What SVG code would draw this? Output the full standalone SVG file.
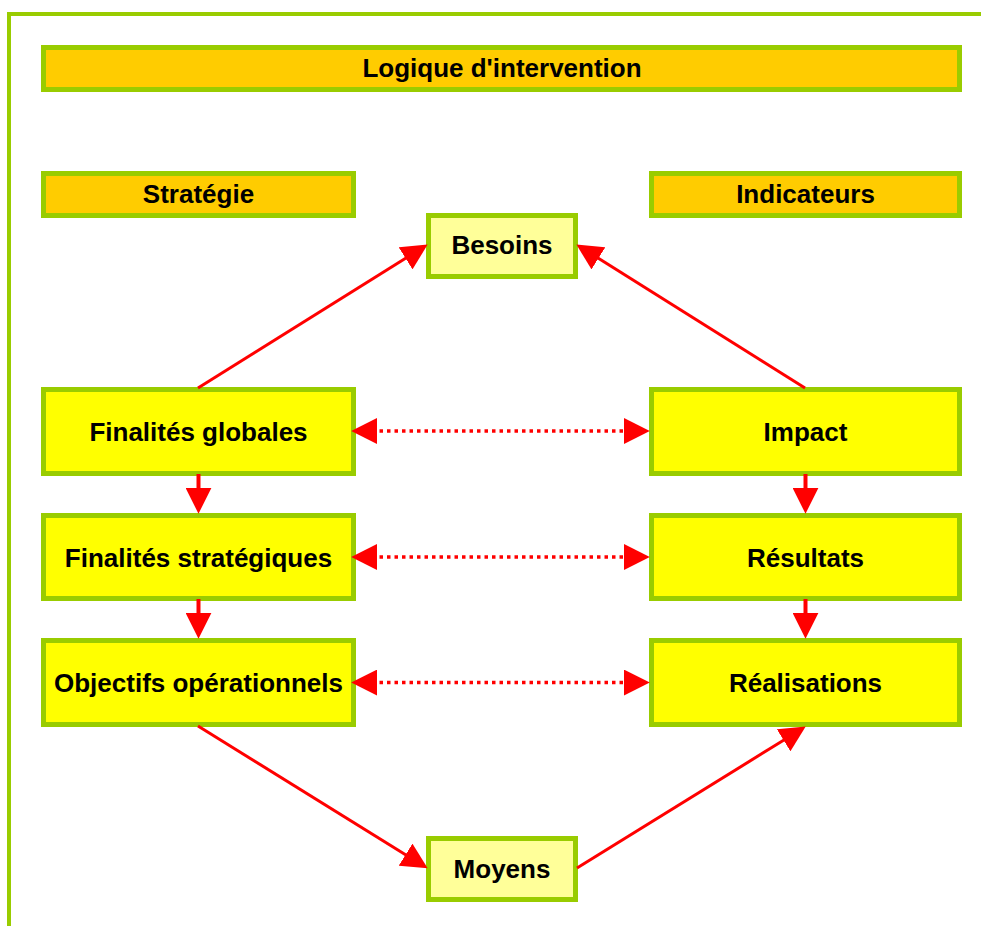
<svg xmlns="http://www.w3.org/2000/svg" width="981" height="926" viewBox="0 0 981 926">
<style>
.frame{fill:#99CC00}
.hdr{fill:#FFCC00;stroke:#99CC00;stroke-width:5}
.main{fill:#FFFF00;stroke:#99CC00;stroke-width:5}
.light{fill:#FFFF99;stroke:#99CC00;stroke-width:5}
text{font-family:"Liberation Sans",Arial,sans-serif;font-weight:bold;font-size:26px;fill:#000;text-anchor:middle}
.arr{stroke:#FF0000;stroke-width:3;fill:none}
.dot{stroke:#FF0000;stroke-width:3.5;fill:none;stroke-dasharray:3.5 4}
.down{stroke:#FF0000;stroke-width:4;fill:none}
</style>
<defs>
<marker id="ah" markerUnits="userSpaceOnUse" markerWidth="26" markerHeight="26" viewBox="0 0 25 25" refX="5" refY="12.5" orient="auto-start-reverse">
<path d="M0,0 L25,12.5 L0,25 z" fill="#FF0000"/>
</marker>
</defs>
<rect width="981" height="926" fill="#FFFFFF"/>
<g id="frame">
<rect class="frame" x="7" y="12" width="974" height="4"/>
<rect class="frame" x="7" y="12" width="4" height="914"/>
</g>
<g id="title"><rect class="hdr" x="43.5" y="47.5" width="916" height="42"/><text x="502" y="77">Logique d'intervention</text></g>
<g id="strategie"><rect class="hdr" x="43.5" y="173.5" width="310" height="42"/><text x="198.5" y="202.5">Stratégie</text></g>
<g id="indicateurs"><rect class="hdr" x="651.5" y="173.5" width="308" height="42"/><text x="805.5" y="202.5">Indicateurs</text></g>
<g id="besoins"><rect class="light" x="428.5" y="215.5" width="147" height="61"/><text x="502" y="253.5">Besoins</text></g>
<g id="moyens"><rect class="light" x="428.5" y="838.5" width="147" height="61"/><text x="502" y="877.5">Moyens</text></g>
<g id="finalites-globales"><rect class="main" x="43.5" y="389.5" width="310" height="84"/><text x="198.5" y="440.5">Finalités globales</text></g>
<g id="finalites-strategiques"><rect class="main" x="43.5" y="515.5" width="310" height="83"/><text x="198.5" y="566.5">Finalités stratégiques</text></g>
<g id="objectifs-operationnels"><rect class="main" x="43.5" y="640.5" width="310" height="84"/><text x="198.5" y="691.5">Objectifs opérationnels</text></g>
<g id="impact"><rect class="main" x="651.5" y="389.5" width="308" height="84"/><text x="805.5" y="440.5">Impact</text></g>
<g id="resultats"><rect class="main" x="651.5" y="515.5" width="308" height="83"/><text x="805.5" y="566.5">Résultats</text></g>
<g id="realisations"><rect class="main" x="651.5" y="640.5" width="308" height="84"/><text x="805.5" y="691.5">Réalisations</text></g>
<g id="connectors">
<line class="arr" x1="198" y1="388" x2="410" y2="255.6" marker-end="url(#ah)"/>
<line class="arr" x1="805" y1="388" x2="594" y2="255.6" marker-end="url(#ah)"/>
<line class="arr" x1="198" y1="726" x2="410" y2="857.4" marker-end="url(#ah)"/>
<line class="arr" x1="577" y1="868" x2="788" y2="737.5" marker-end="url(#ah)"/>
<line class="down" x1="198.5" y1="474" x2="198.5" y2="493" marker-end="url(#ah)"/>
<line class="down" x1="198.5" y1="599" x2="198.5" y2="618" marker-end="url(#ah)"/>
<line class="down" x1="805.5" y1="474" x2="805.5" y2="493" marker-end="url(#ah)"/>
<line class="down" x1="805.5" y1="599" x2="805.5" y2="618" marker-end="url(#ah)"/>
<line class="dot" x1="372" y1="431" x2="629" y2="431" marker-start="url(#ah)" marker-end="url(#ah)"/>
<line class="dot" x1="372" y1="557" x2="629" y2="557" marker-start="url(#ah)" marker-end="url(#ah)"/>
<line class="dot" x1="372" y1="682.5" x2="629" y2="682.5" marker-start="url(#ah)" marker-end="url(#ah)"/>
</g>
</svg>
